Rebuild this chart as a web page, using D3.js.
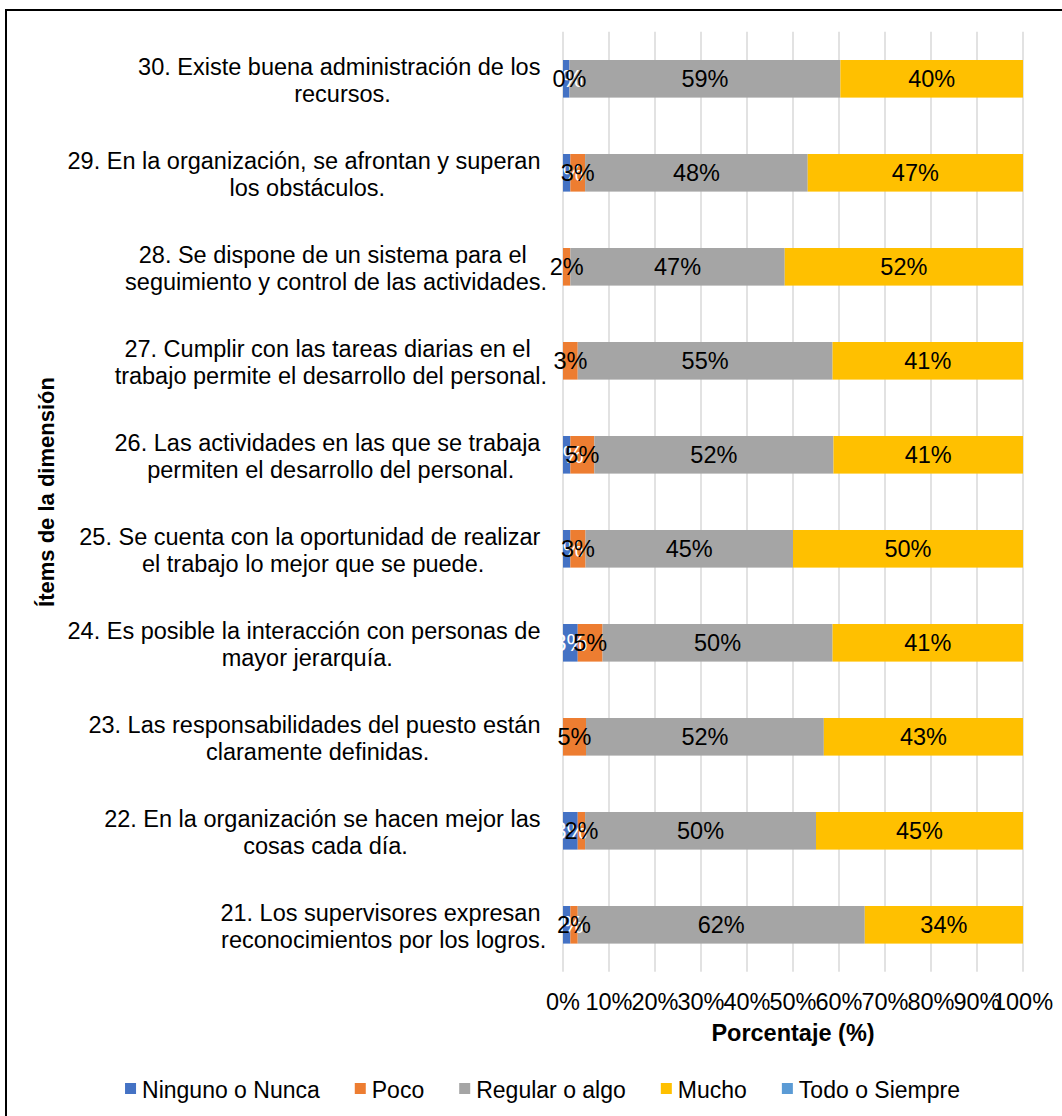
<!DOCTYPE html>
<html>
<head>
<meta charset="utf-8">
<script src="https://cdn.jsdelivr.net/npm/d3@7"></script>
<style>
  html, body { margin: 0; padding: 0; background: #fff; }
  svg { display: block; font-family: "Liberation Sans", Arial, sans-serif; }
</style>
</head>
<body>
<svg id="chart" width="1062" height="1116"></svg>
<script>
// Survey items (top to bottom), with their wrapped lines separated by "\n"
const items = [
  "30. Existe buena administración de los\nrecursos.",
  "29. En la organización, se afrontan y superan\nlos obstáculos.",
  "28. Se dispone de un sistema para el\nseguimiento y control de las actividades.",
  "27. Cumplir con las tareas diarias en el\ntrabajo permite el desarrollo del personal.",
  "26. Las actividades en las que se trabaja\npermiten el desarrollo del personal.",
  "25. Se cuenta con la oportunidad de realizar\nel trabajo lo mejor que se puede.",
  "24. Es posible la interacción con personas de\nmayor jerarquía.",
  "23. Las responsabilidades del puesto están\nclaramente definidas.",
  "22. En la organización se hacen mejor las\ncosas cada día.",
  "21. Los supervisores expresan\nreconocimientos por los logros."
];

// Answer shares per item, in percent
const ninguno = [1.4, 1.6, 0, 0, 1.6, 1.6, 3.2, 0, 3.2, 1.6];
const poco    = [0, 3.2, 1.6, 3.2, 5.2, 3.3, 5.4, 5.0, 1.6, 1.6];
const regular = [58.9, 48.4, 46.6, 55.4, 52.0, 45.1, 50.0, 51.7, 50.2, 62.4];
const mucho   = [39.7, 46.8, 51.8, 41.4, 41.2, 50.0, 41.4, 43.3, 45.0, 34.4];
const todo    = [0, 0, 0, 0, 0, 0, 0, 0, 0, 0];

const seriesNames = ["Ninguno o Nunca", "Poco", "Regular o algo", "Mucho", "Todo o Siempre"];
const xTicks = [0, 10, 20, 30, 40, 50, 60, 70, 80, 90, 100];

const colors = ["#4472C4", "#ED7D31", "#A5A5A5", "#FFC000", "#5B9BD5"];
const labelColors = ["#ffffff", "#000000", "#000000", "#000000", null];
const FS = 23.5;

const keys = ["ninguno", "poco", "regular", "mucho", "todo"];
const rows = items.map((item, i) => ({
  item, ninguno: ninguno[i], poco: poco[i], regular: regular[i], mucho: mucho[i], todo: todo[i]
}));

const svg = d3.select("#chart");

// outer frame
svg.append("rect")
  .attr("x", 6).attr("y", 10)
  .attr("width", 1080).attr("height", 1130)
  .attr("fill", "none").attr("stroke", "#000").attr("stroke-width", 2);

const x = d3.scaleLinear().domain([0, 100]).range([563, 1023]);
const y = d3.scaleBand().domain(items).range([31.8, 971.8]).paddingInner(0.6).paddingOuter(0.3);

// vertical gridlines
svg.append("g").selectAll("line")
  .data(xTicks)
  .join("line")
  .attr("x1", d => x(d)).attr("x2", d => x(d))
  .attr("y1", 31.8).attr("y2", 971.8)
  .attr("stroke", "#d9d9d9").attr("stroke-width", 1.5);

// stacked bars
const stack = d3.stack().keys(keys);
const stacked = stack(rows);

const barG = svg.append("g");
stacked.forEach((layer, k) => {
  barG.append("g").attr("fill", colors[k])
    .selectAll("rect")
    .data(layer)
    .join("rect")
    .attr("x", d => x(d[0]))
    .attr("width", d => x(d[1]) - x(d[0]))
    .attr("y", d => y(d.data.item))
    .attr("height", y.bandwidth());
});

// value labels (white "Ninguno" labels first, the dark ones on top)
const labelOrder = [0, 1, 2, 3];
const labG = svg.append("g").attr("font-size", FS).attr("text-anchor", "middle");
labelOrder.forEach(k => {
  const layer = stacked[k];
  labG.append("g").attr("fill", labelColors[k])
    .selectAll("text")
    .data(layer.filter(d => k === 1 || d[1] - d[0] > 0))
    .join("text")
    .attr("x", d => x((d[0] + d[1]) / 2))
    .attr("y", d => y(d.data.item) + y.bandwidth() / 2)
    .attr("dy", "0.35em")
    .text(d => Math.round(d[1] - d[0]) + "%");
});

// category labels: wrapped lines centred on a common axis, block right-aligned
const catG = svg.append("g").attr("font-size", FS).attr("fill", "#000");
const measure = svg.append("text").attr("font-size", FS).attr("visibility", "hidden");
const spaceW = 0.278 * FS;
const rightEdge = 547;
items.forEach(item => {
  const lines = item.split("\n");
  const widths = lines.map((ln, i) => {
    measure.text(ln);
    return measure.node().getComputedTextLength() + (i < lines.length - 1 ? spaceW : 0);
  });
  const blockW = d3.max(widths);
  const cx = rightEdge - blockW / 2;
  const cy = y(item) + y.bandwidth() / 2;
  lines.forEach((ln, i) => {
    catG.append("text")
      .attr("x", cx - widths[i] / 2)
      .attr("y", cy - 4 + i * 27)
      .text(ln);
  });
});
measure.remove();

// x axis tick labels
svg.append("g").attr("font-size", FS).attr("text-anchor", "middle").attr("fill", "#000")
  .selectAll("text")
  .data(xTicks)
  .join("text")
  .attr("x", d => x(d))
  .attr("y", 1009.5)
  .text(d => d + "%");

// axis titles
svg.append("text")
  .attr("x", (x(0) + x(100)) / 2).attr("y", 1041)
  .attr("text-anchor", "middle").attr("font-size", FS).attr("font-weight", "bold")
  .text("Porcentaje (%)");

svg.append("text")
  .attr("transform", "translate(54,492) rotate(-90)")
  .attr("text-anchor", "middle").attr("font-size", 22).attr("font-weight", "bold")
  .text("Ítems de la dimensión");

// legend
const legG = svg.append("g").attr("font-size", 23).attr("fill", "#000");
const entries = legG.selectAll("g").data(seriesNames).join("g");
entries.append("rect").attr("width", 11).attr("height", 11).attr("y", 1083)
  .attr("fill", (d, i) => colors[i]);
entries.append("text").attr("x", 17).attr("y", 1097.5).text(d => d);
let cursor = 0;
const offsets = [];
entries.each(function () {
  offsets.push(cursor);
  const w = d3.select(this).select("text").node().getComputedTextLength();
  cursor += 17 + w + 35;
});
const total = cursor - 35;
const start = 542.5 - total / 2;
entries.attr("transform", (d, i) => `translate(${start + offsets[i]},0)`);
</script>
</body>
</html>
